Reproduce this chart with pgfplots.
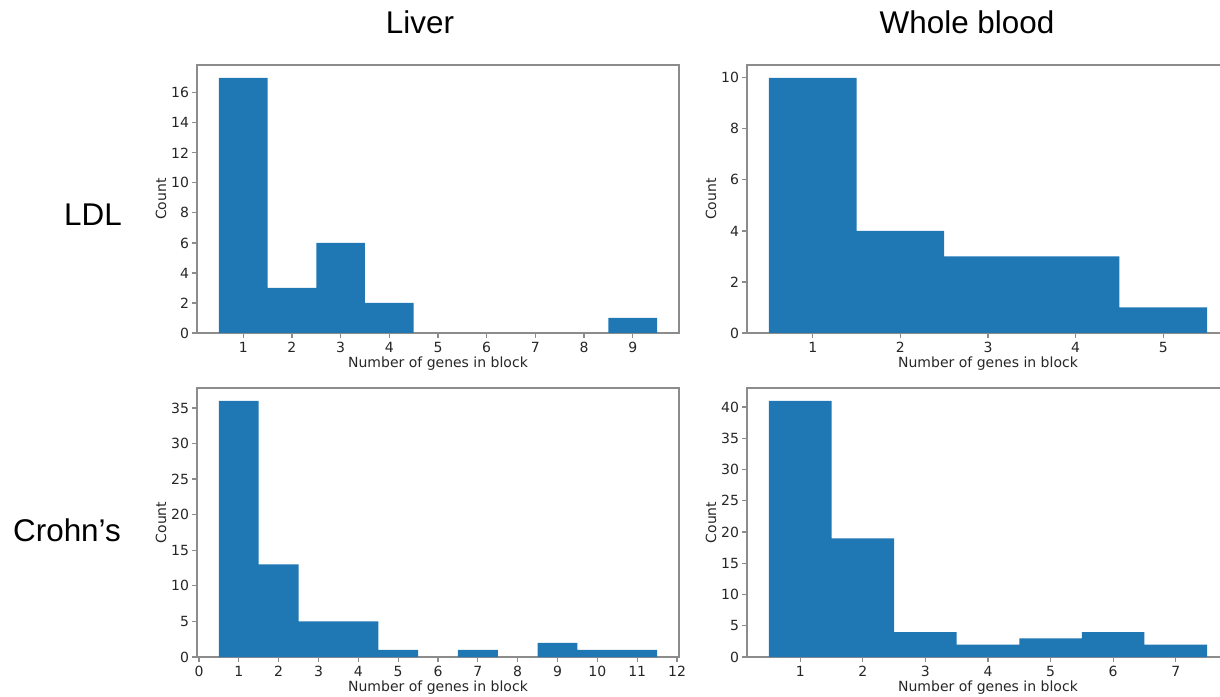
\documentclass[border=0pt]{standalone}
\usepackage{fontspec}
\setmainfont{DejaVu Sans}
\newfontfamily\titlefont{Liberation Sans}
\usepackage{pgfplots}
\pgfplotsset{compat=1.18}
\definecolor{tabblue}{HTML}{1F77B4}
\definecolor{spine}{HTML}{8C8C8C}
\definecolor{ticktext}{HTML}{262626}

\pgfplotsset{
  hist/.style={
    scale only axis, width=241pt, anchor=south west,
    ybar, bar width=1, ymin=0,
    axis line style={spine, line width=0.6pt},
    tick style={spine, line width=0.6pt},
    major tick length=2.5pt,
    tick align=outside, tick pos=left,
    font=\fontsize{7}{8}\selectfont,
    tick label style={ticktext},
    xticklabel style={yshift=1.5pt},
    yticklabel style={xshift=2pt},
    label style={ticktext},
    /pgf/number format/assume math mode=true,
    xlabel={Number of genes in block}, ylabel={Count},
    xlabel style={yshift=5pt}, ylabel style={yshift=-4.5pt},
  },
  histbar/.style={fill=tabblue, draw=none},
}

\begin{document}
\begin{tikzpicture}
\useasboundingbox (0,0) rectangle (610pt,348pt);
\clip (0,0) rectangle (610pt,348pt);

% LDL, liver
\begin{axis}[hist, at={(98.5pt,181.5pt)}, height=134pt,
  xmin=0.05, xmax=9.95, xtick={1,...,9},
  ymax=17.85, ytick={0,2,...,16}]
  \addplot[histbar] coordinates {(1,17) (2,3) (3,6) (4,2) (9,1)};
\end{axis}

% LDL, whole blood
\begin{axis}[hist, at={(373.5pt,181.5pt)}, height=134pt,
  xmin=0.25, xmax=5.75, xtick={1,...,5},
  ymax=10.5, ytick={0,2,...,10}]
  \addplot[histbar] coordinates {(1,10) (2,4) (3,3) (4,3) (5,1)};
\end{axis}

% Crohn's, liver
\begin{axis}[hist, at={(98.5pt,19.5pt)}, height=134.5pt,
  xmin=-0.05, xmax=12.05, xtick={0,...,12},
  ymax=37.8, ytick={0,5,...,35}]
  \addplot[histbar] coordinates {(1,36) (2,13) (3,5) (4,5) (5,1) (7,1) (9,2) (10,1) (11,1)};
\end{axis}

% Crohn's, whole blood
\begin{axis}[hist, at={(373.5pt,19.5pt)}, height=134.5pt,
  xmin=0.15, xmax=7.85, xtick={1,...,7},
  ymax=43.05, ytick={0,5,...,40}]
  \addplot[histbar] coordinates {(1,41) (2,19) (3,4) (4,2) (5,3) (6,4) (7,2)};
\end{axis}

\begin{scope}[every node/.style={font=\titlefont\fontsize{15.7}{18}\selectfont}]
  \node at (210pt,337pt) {Liver};
  \node at (483.5pt,337pt) {Whole blood};
  \node at (46.5pt,240.5pt) {LDL};
  \node at (33.5pt,83pt) {Crohn’s};
\end{scope}
\end{tikzpicture}
\end{document}
